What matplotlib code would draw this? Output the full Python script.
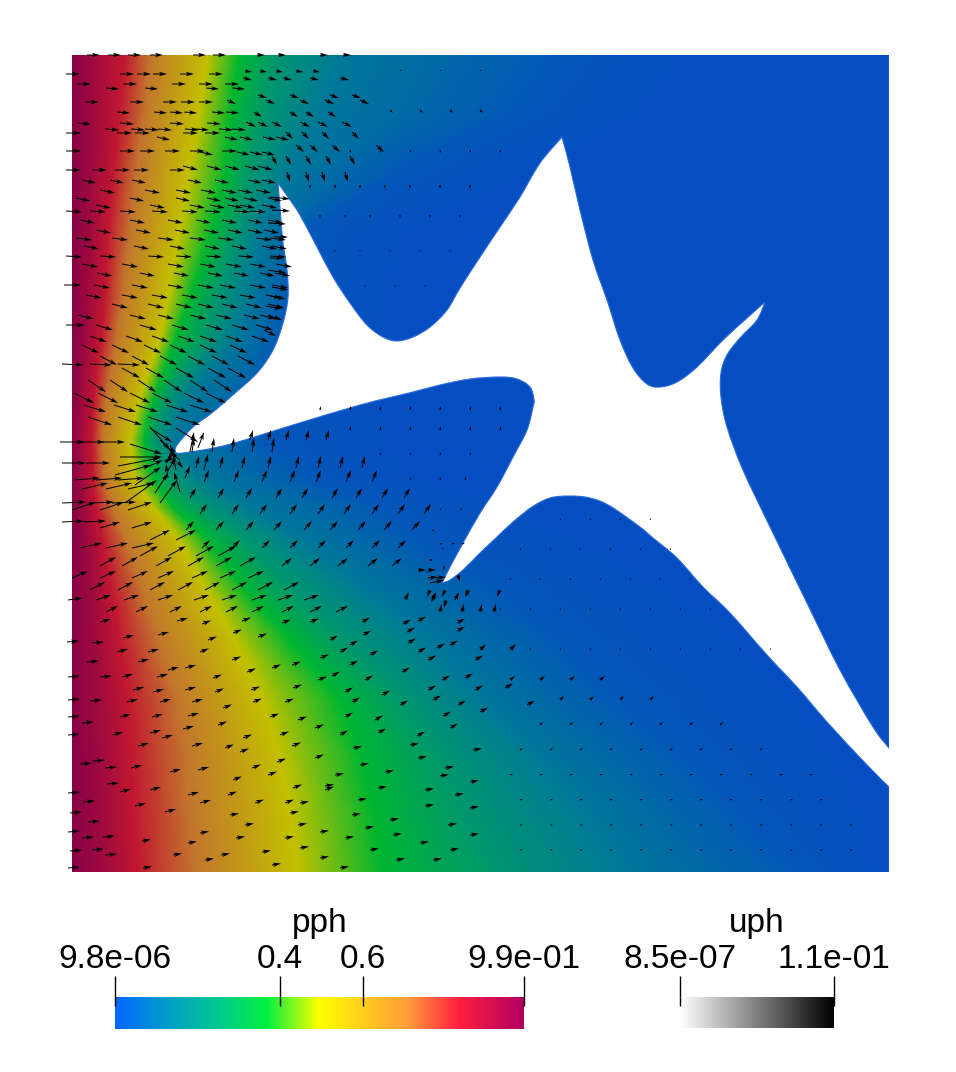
import numpy as np
import matplotlib
matplotlib.use('Agg')
import matplotlib.pyplot as plt
from matplotlib.colors import LinearSegmentedColormap
from matplotlib.patches import PathPatch
from matplotlib.path import Path

plt.rcParams['font.family'] = ['Liberation Sans', 'DejaVu Sans']

# pph colour scale
stop_vals = [0.0, 0.13, 0.25, 0.37, 0.5, 0.72, 0.84, 1.0]
stop_cols = ['#0666ff', '#00a0c8', '#00c890', '#00f040', '#ffff00', '#ff9a3c', '#ff2040', '#b00060']
shade = 0.76  # the mesh is darker than the bar

# where pph reaches each level, per row of the mesh
iso_y = [55, 110, 170, 230, 300, 340, 390, 415, 440, 470, 490, 507, 540, 590, 640, 700, 760, 820, 872]
iso_levels = [0.99, 0.93, 0.84, 0.72, 0.5, 0.37, 0.25, 0.13, 0.03, 0.0, 0.0]
x_99 = [72] * 19
x_93 = [92, 93, 92, 90, 88, 86, 82, 81, 80, 80, 82, 84, 88, 92, 95, 98, 100, 102, 104]
x_84 = [125, 120, 114, 108, 105, 101, 95, 93, 92, 93, 94, 97, 103, 112, 120, 128, 132, 135, 138]
x_72 = [150, 145, 137, 130, 122, 116, 108, 104, 102, 104, 107, 112, 125, 142, 158, 177, 186, 190, 195]
x_50 = [208, 200, 190, 180, 168, 160, 143, 136, 131, 133, 142, 153, 180, 207, 235, 263, 282, 292, 298]
x_37 = [240, 232, 226, 212, 190, 175, 157, 149, 144, 150, 160, 173, 207, 245, 290, 340, 362, 375, 382]
x_25 = [275, 265, 250, 236, 215, 205, 170, 160, 154, 165, 180, 200, 245, 290, 340, 400, 440, 465, 490]
x_13 = [340, 320, 290, 262, 250, 235, 195, 180, 172, 195, 220, 250, 300, 365, 425, 480, 540, 590, 620]
x_03 = [560, 520, 400, 310, 290, 285, 280, 270, 270, 300, 340, 380, 420, 500, 560, 620, 690, 750, 800]
x_00 = [700, 660, 560, 420, 400, 400, 400, 400, 400, 420, 470, 520, 600, 690, 760, 820, 860, 880, 888]
x_end = [889] * 19

# crack outline, the corners are the sharp tips
crack_x = [175, 177, 193, 213, 235, 257, 273, 283, 288, 287, 283, 281, 278, 288, 300, 317, 333, 350,
           367, 383, 397, 413, 430, 447, 460, 480, 500, 520, 540, 562, 570, 580, 593, 607, 620, 633,
           647, 660, 677, 697, 723, 747, 765, 757, 740, 727, 721, 721, 727, 743, 773, 807, 840, 873,
           889, 895, 895, 889, 867, 827, 797, 767, 730, 703, 677, 653, 640, 610, 590, 570, 550, 532,
           513, 497, 480, 463, 450, 442, 450, 463, 480, 497, 513, 527, 533, 534, 530, 517, 500, 470,
           440, 413, 360, 293, 227, 183]
crack_y = [452, 445, 427, 412, 393, 373, 350, 323, 297, 270, 243, 220, 183, 197, 215, 247, 277, 303,
           325, 337, 341, 337, 327, 310, 288, 257, 227, 197, 163, 137, 167, 210, 260, 300, 340, 368,
           384, 387, 382, 367, 340, 318, 302, 320, 338, 355, 373, 397, 427, 470, 533, 603, 670, 727,
           748, 748, 787, 787, 765, 722, 687, 655, 613, 587, 558, 538, 527, 506, 498, 496, 498, 507,
           522, 537, 553, 570, 580, 583, 567, 543, 513, 487, 457, 430, 407, 400, 387, 379, 377, 379,
           385, 392, 405, 425, 445, 453]
crack_corners = [0, 12, 29, 42, 54, 55, 56, 57, 77]

# arrows as rows: y, u, v, start x of each arrow
rows_upper = [
    (55, 13, 0, [87, 108, 128, 150, 193, 213]),
    (55, 8, 0, [257, 278, 320, 343]),
    (74, 14, 0, [66, 120, 137, 153, 180, 209]),
    (71, 7, 1, [245, 260, 276, 296, 313]),
    (84, 14, 0, [77, 123, 172, 199, 225]),
    (78, 9, 2, [243, 268, 283, 310, 340]),
    (88, 13, 1, [106, 145, 206, 232]),
    (95, 9, 3, [258, 290, 330, 352]),
    (102, 14, 0, [85, 130, 163, 181, 199]),
    (100, 9, 4, [227, 266, 300, 325, 360]),
    (112, 13, 1, [117, 154, 170, 184, 212, 226]),
    (112, 8, 5, [254, 290, 306, 328]),
    (123, 14, 1, [77, 120, 170, 207]),
    (122, 10, 5, [246, 258, 272, 300, 318, 342]),
    (129, 14, 1, [105, 131, 145, 158, 185, 195, 219, 232]),
    (132, 7, 7, [286, 302, 322, 352]),
    (133, 15, 0, [66, 117, 135, 183, 205]),
    (137, 13, 3, [157, 225, 240, 263, 276]),
    (145, 8, 7, [296, 310, 332, 376]),
    (151, 15, 0, [66, 120, 140, 165, 190, 222]),
    (152, 13, 3, [200, 237, 250, 262]),
    (156, 5, 9, [272, 286, 306, 326, 350]),
    (170, 15, 0, [66, 92, 115, 134, 170]),
    (166, 15, 4, [183, 207, 225, 245, 258]),
    (172, 3, 10, [287, 306, 322, 345]),
    (180, 14, 3, [82, 110, 132, 188, 215, 248, 262]),
    (190, 15, 3, [100, 145, 176, 201, 222, 238, 256]),
    (198, 14, 3, [76, 130, 176, 207, 225, 244, 268]),
    (205, 15, 3, [96, 150, 190, 210, 228, 240, 262]),
    (211, 16, 1, [66, 90, 120, 152, 182, 205, 234, 250]),
    (220, 15, 3, [80, 130, 168, 196, 222, 248, 268]),
    (230, 15, 3, [96, 136, 175, 204, 228, 248, 264]),
    (238, 16, 2, [76, 112, 158, 190, 218, 256, 270]),
    (246, 15, 3, [84, 134, 170, 205, 232, 262, 272]),
    (256, 16, 1, [66, 100, 148, 176, 206, 238, 270]),
    (264, 16, 3, [82, 122, 168, 200, 226, 250, 276]),
    (273, 15, 3, [97, 140, 174, 208, 234, 260, 275]),
    (285, 17, 0, [64]),
    (285, 16, 3, [94, 132, 168, 198, 220, 250, 272]),
    (295, 16, 3, [86, 122, 152, 182, 212, 240, 266]),
    (304, 16, 4, [112, 148, 176, 198, 222, 246, 268]),
    (315, 16, 4, [78, 130, 158, 190, 216, 244, 260]),
    (325, 19, 0, [66]),
    (325, 17, 5, [96, 140, 172, 206, 232, 256]),
    (336, 17, 6, [90, 126, 152, 178, 200, 226, 252]),
    (345, 17, 8, [82, 112, 144, 170, 200, 230]),
    (364, 22, 1, [62, 90, 118]),
    (356, 17, 9, [100, 132, 160, 188, 212, 238]),
    (368, 18, 10, [122, 146, 176, 208, 228]),
    (380, 18, 12, [88, 110, 138, 164, 190, 214]),
    (393, 20, 10, [74, 98, 130, 152, 184, 206]),
    (405, 22, 7, [84, 114, 136, 166, 190]),
    (417, 24, 8, [88, 118, 148, 176]),
    (428, 22, 14, [150, 176]),
]
rows_mid = [
    (442, 25, 0, [60, 80, 100]),
    (463, 24, 0, [62, 86]),
    (480, 26, -2, [74, 96, 118]),
    (489, 26, -6, [82, 106, 128]),
    (503, 24, -1, [62, 90, 112]),
    (510, 24, -8, [72, 100, 128]),
    (522, 22, -1, [62, 84]),
    (528, 20, -6, [100, 132]),
    (540, 20, -10, [150, 176]),
    (548, 22, -5, [80, 106, 132]),
    (556, 18, -10, [140, 168, 196, 218]),
    (566, 16, -9, [100, 122, 156, 188, 216, 240]),
    (578, 16, -7, [72, 100, 132, 158, 192, 220, 248]),
    (590, 15, -8, [90, 118, 150, 178, 205, 232, 258, 284]),
    (600, 15, -2, [68]),
    (600, 15, -5, [96, 124, 158, 194, 222, 252, 278, 304]),
    (612, 12, -6, [106, 136, 170, 200, 226, 252, 282, 310, 336]),
]
# lower left block, grouped by direction: u, v, then (x, y) starts
left_edge = (12, -1, [(67, 642), (92, 643), (87, 662), (68, 677), (100, 677), (68, 700), (90, 701),
                      (68, 717), (82, 723), (68, 735), (80, 764), (93, 761), (105, 768), (107, 784),
                      (83, 802), (68, 793), (70, 813), (88, 822), (68, 832), (82, 838), (103, 837),
                      (70, 851), (92, 850), (105, 855), (68, 868)])
left_band = (11, -3, [(100, 622), (123, 638), (158, 635), (117, 652), (148, 652), (177, 621), (138, 662),
                      (168, 670), (122, 677), (157, 677), (185, 668), (133, 690), (153, 692), (185, 690),
                      (127, 702), (160, 702), (192, 702), (120, 717), (152, 717), (188, 716), (112, 735),
                      (150, 733), (183, 729), (138, 746), (162, 738), (192, 746), (131, 768), (170, 772),
                      (198, 770), (120, 792), (150, 790), (188, 795), (135, 806), (165, 812), (200, 803)])
mid_band = (9, -3.5, [(202, 624), (242, 621), (282, 623), (310, 622), (208, 640), (233, 633), (258, 637),
                      (200, 652), (232, 660), (272, 668), (213, 678), (247, 672), (292, 665), (320, 658),
                      (215, 692), (251, 690), (293, 688), (318, 680), (223, 708), (253, 702), (285, 702),
                      (218, 725), (270, 717), (298, 720), (243, 738), (280, 735), (315, 728), (225, 748),
                      (240, 752), (292, 746), (252, 768), (277, 762), (315, 758), (233, 780), (268, 775),
                      (293, 788), (228, 795), (255, 803), (285, 803), (325, 790)])
right_band = (8, -4.5, [(362, 622), (403, 624), (418, 621), (457, 623), (363, 635), (407, 632), (457, 631),
                        (330, 640), (350, 645), (408, 643), (450, 645), (340, 652), (370, 655), (418, 652),
                        (437, 648), (350, 665), (428, 660), (475, 660), (332, 676), (365, 680), (402, 672),
                        (442, 680), (465, 678), (345, 692), (382, 695), (428, 690), (475, 690), (505, 688),
                        (352, 702), (400, 705), (433, 700), (458, 705), (345, 717), (375, 720), (443, 716),
                        (480, 712), (527, 705), (340, 735), (378, 733), (417, 736), (450, 728)])
low_band = (9, -1.5, [(353, 748), (410, 745), (473, 750), (360, 765), (418, 758), (445, 768), (335, 775),
                      (385, 772), (440, 776), (470, 782), (325, 786), (378, 788), (425, 790), (455, 795),
                      (300, 803), (358, 800), (425, 806), (470, 808), (290, 813), (352, 815), (390, 820),
                      (230, 815), (245, 825), (298, 825), (320, 832), (365, 828), (448, 825), (200, 833),
                      (236, 838), (285, 838), (345, 838), (393, 835), (470, 835), (142, 841), (188, 843),
                      (262, 852), (300, 848), (370, 850), (420, 843), (450, 850), (173, 855), (221, 855),
                      (320, 858), (396, 860), (433, 860), (143, 868), (205, 860), (272, 865), (340, 868)])
lower_groups = [left_edge, left_band, mid_band, right_band, low_band]
rows_small = [
    (440, 3, -10, [250, 268, 286, 306, 326]),
    (452, 2, -14, [192, 212, 232, 252, 272]),
    (468, 3, -12, [196, 220, 242, 268, 296, 318, 340, 362]),
    (482, 5, -12, [204, 234, 262, 290, 316, 346, 372]),
    (498, 6, -10, [190, 218, 246, 276, 302, 332, 356, 382, 404]),
    (514, 7, -10, [200, 232, 260, 290, 318, 344, 372, 398, 424]),
    (530, 8, -9, [186, 216, 246, 274, 304, 330, 358, 384, 412]),
    (548, 8, -8, [202, 232, 262, 290, 318, 346, 372, 398]),
    (566, 10, -8, [282, 310, 338, 368, 392]),
    (544, 3, -1, [440, 452, 462]),
    (570, 8, 0, [418, 428]),
    (578, 10, -1, [428, 436]),
    (590, -3, 7, [430, 445, 468, 500]),
    (600, 4, -8, [405, 432, 455]),
    (612, 2, -8, [440, 462, 480, 494]),
    (650, 6, -6, [480, 510]),
    (680, 5, -4, [510, 540, 570, 600]),
    (700, 4, -4, [560, 590, 620, 650]),
    (725, 3, -3, [540, 570, 600, 630, 660, 690, 720]),
    (750, 3, -2, [520, 550, 580, 610, 640, 670, 700, 730, 760]),
    (775, 3, -1, [510, 540, 570, 600, 630, 660, 690, 720, 750, 780, 810]),
    (800, 3, -1, [520, 550, 580, 610, 640, 670, 700, 730, 760, 790, 820]),
    (825, 3, 0, [520, 550, 580, 610, 640, 670, 700, 730, 760, 790, 820, 850]),
    (850, 3, 0, [520, 550, 580, 610, 640, 670, 700, 730, 760, 790, 820, 850]),
    (410, 1, -4, [320, 350, 380, 410, 440, 470, 500]),
    (430, 1, -4, [350, 380, 410, 440, 470, 500]),
    (455, 1, -3, [380, 410, 440, 470]),
    (480, 1, -3, [410, 440, 465]),
    (510, 2, -2, [440, 460]),
    (520, 1, -2, [560, 590, 620, 650]),
    (550, 1, -2, [520, 550, 580, 610, 640, 670]),
    (580, 1, -2, [510, 540, 570, 600, 630, 660, 690]),
    (610, 1, -2, [500, 530, 560, 590, 620, 650, 680, 710]),
    (650, 1, -2, [530, 560, 590, 620, 650, 680, 710, 740, 770]),
    (70, 2, 1, [400, 440, 480]),
    (110, 3, 3, [390, 420, 450, 480]),
    (150, 1, 3, [350, 380, 410, 440, 470, 500]),
    (185, 0, 4, [310, 335, 360, 385, 410, 440, 470]),
    (215, 0, 3, [320, 345, 370, 400, 430, 460]),
    (250, 0, 2, [335, 360, 390, 420, 450]),
    (285, 0, 2, [365, 395, 425]),
]
# the fan round the left tip of the crack
tip_x = [118, 120, 130, 150, 125, 155, 160, 135, 115, 145, 170, 176, 185, 190, 180, 168, 165, 172, 178, 198, 204, 160, 180, 175, 168]
tip_y = [466, 457, 444, 427, 503, 493, 503, 485, 475, 468, 445, 470, 478, 452, 492, 478, 462, 458, 462, 448, 470, 440, 460, 450, 470]
tip_u = [42, 42, 32, 20, 32, 13, 17, 26, 36, 18, 4, -3, 5, 4, -6, -2, 6, -6, 5, 6, 4, 16, -10, -8, 8]
tip_v = [-8, 0, 10, 23, -23, -20, -23, -18, -10, -8, 10, -15, -12, -20, -20, -14, -4, 4, 6, -16, -16, 16, -8, 10, -12]
# arrows along the left side of the upper spike and at the second tip
side_x = [270, 272, 268, 274, 270, 268, 272, 270, 266, 268, 264, 430, 428, 432, 444, 436, 446, 458, 468, 442, 432]
side_y = [197, 210, 223, 237, 258, 270, 287, 296, 306, 315, 330, 583, 572, 560, 566, 594, 600, 575, 590, 548, 530]
side_u = [20, 18, 18, 14, 14, 18, 16, 16, 16, 14, 12, 14, -2, -4, 0, -5, -2, 2, 0, 2, 3]
side_v = [2, 1, 1, 0, 0, 3, 3, 3, 3, 5, 6, -3, 1, 0, 4, 8, 8, 7, 6, 1, 1]

fig = plt.figure(figsize=(9.56, 10.72), dpi=100)
W, H = 956.0, 1072.0

def add_axes_px(x0, y0, x1, y1):
  return fig.add_axes([x0/W, 1-y1/H, (x1-x0)/W, (y1-y0)/H])

def smooth_path(xs, ys, corners):
  """ Bezier path through the points, sharp only at the corners """
  pts = np.column_stack([xs, ys]).astype(float)
  verts, codes = [pts[0]], [Path.MOVETO]
  stops = corners + [len(pts)]
  closed = np.vstack([pts, pts[0]])
  for a, b in zip(stops[:-1], stops[1:]):
    seg = closed[a:b+1]
    for i in range(len(seg)-1):
      prev = seg[max(i-1, 0)]
      after = seg[min(i+2, len(seg)-1)]
      verts += [seg[i] + (seg[i+1]-prev)/6, seg[i+1] - (after-seg[i])/6, seg[i+1]]
      codes += [Path.CURVE4] * 3
  return Path(verts, codes)

bar_map = LinearSegmentedColormap.from_list('pph_bar', list(zip(stop_vals, stop_cols)), N=512)
mesh_cols = [tuple(shade*c for c in matplotlib.colors.to_rgb(s)) for s in stop_cols]
mesh_map = LinearSegmentedColormap.from_list('pph_mesh', list(zip(stop_vals, mesh_cols)), N=512)

# Main field
ax = add_axes_px(72, 55, 889, 872)
X = np.array([x_99, x_93, x_84, x_72, x_50, x_37, x_25, x_13, x_03, x_00, x_end], dtype=float).T
Y = np.repeat(np.array(iso_y, dtype=float)[:, None], X.shape[1], axis=1)
C = np.repeat(np.array(iso_levels)[None, :], X.shape[0], axis=0)
ax.pcolormesh(X, Y, C, shading='gouraud', cmap=mesh_map, vmin=0, vmax=1)
ax.add_patch(PathPatch(smooth_path(crack_x, crack_y, crack_corners), facecolor='white',
                       edgecolor='#2a6be0', lw=0.8, zorder=3))
ax.plot([889, 889], [55, 748], color='#2a6be0', lw=1.0, zorder=3)
ax.plot([889, 889], [787, 872], color='#2a6be0', lw=1.0, zorder=3)
ax.set_xlim(72, 889)
ax.set_ylim(872, 55)
ax.set_axis_off()

ax_x, ax_y, ax_u, ax_v = [], [], [], []
for row_y, u, v, xs in rows_upper + rows_mid + rows_small:
  for x in xs:
    ax_x.append(x)
    ax_y.append(row_y)
    ax_u.append(u)
    ax_v.append(v)
for u, v, starts in lower_groups:
  for x, y in starts:
    ax_x.append(x)
    ax_y.append(y)
    ax_u.append(u)
    ax_v.append(v)
ax_x += tip_x + side_x
ax_y += tip_y + side_y
ax_u += tip_u + side_u
ax_v += tip_v + side_v
ax.quiver(ax_x, ax_y, ax_u, ax_v, angles='xy', scale_units='xy', scale=1, units='xy',
          width=1.0, headwidth=4.5, headlength=8, headaxislength=6.5, minshaft=1, minlength=0,
          color='black', zorder=4, clip_on=False)

# Colour bars
def color_bar(x0, x1, y0, y1, cmap, vmin, vmax, ticks, labels, title):
  cax = add_axes_px(x0, y0, x1, y1)
  cax.imshow(np.linspace(0, 1, 512)[None, :], extent=[vmin, vmax, 0, 1], aspect='auto', cmap=cmap)
  for s in cax.spines.values():
    s.set_visible(False)
  cax.set_yticks([])
  cax.set_xticks(ticks)
  cax.set_xticklabels(labels, fontsize=24)
  cax.tick_params(axis='x', top=True, labeltop=True, bottom=False, labelbottom=False,
                  direction='out', length=15, width=1, pad=1)
  cax.vlines(ticks, 0.72, 1, color='black', lw=1, clip_on=False)
  cax.set_xlim(vmin, vmax)
  cax.set_ylim(0, 1)
  cax.set_title(title, fontsize=24, pad=47)

color_bar(115, 524, 997, 1029, bar_map, 9.8e-06, 0.99, [9.8e-06, 0.4, 0.6, 0.99],
          ['9.8e-06', '0.4', '0.6', '9.9e-01'], 'pph')
color_bar(680, 834, 997, 1028, 'gray_r', 8.5e-07, 0.11, [8.5e-07, 0.11],
          ['8.5e-07', '1.1e-01'], 'uph')

plt.savefig('out.png', dpi=100)
